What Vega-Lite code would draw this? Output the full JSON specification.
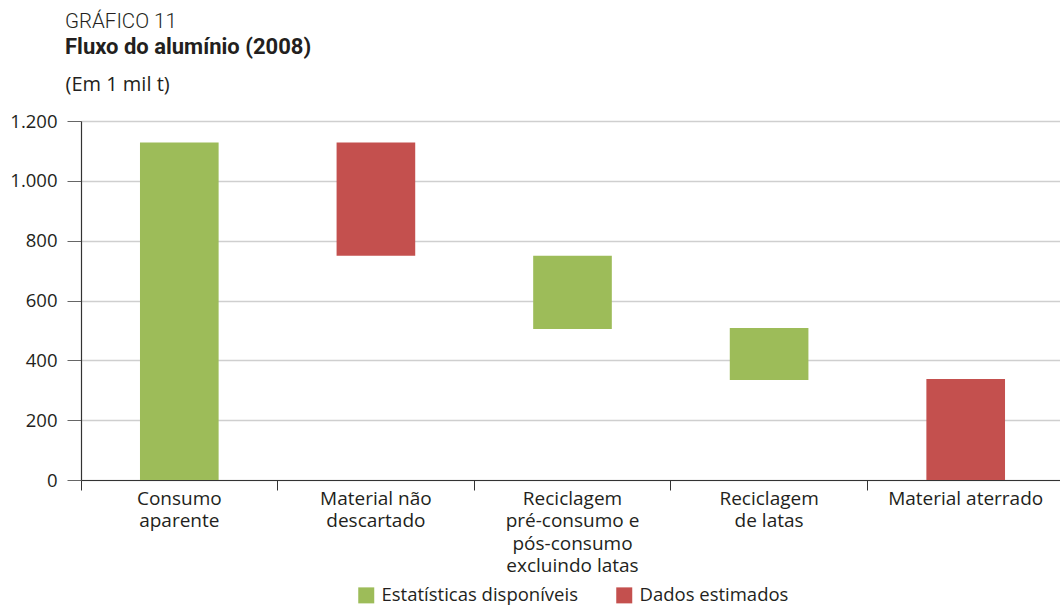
{
  "$schema": "https://vega.github.io/schema/vega-lite/v6.json",
  "width": 979,
  "height": 359,
  "autosize": {"type": "none"},
  "padding": {"left": 81, "top": 121, "right": 0, "bottom": 128},
  "background": "white",
  "title": {
    "text": "GRÁFICO 11",
    "subtitle": "Fluxo do alumínio (2008)",
    "anchor": "start",
    "frame": "group",
    "dx": -16,
    "font": "Roboto",
    "fontSize": 20.5,
    "fontWeight": 300,
    "color": "#231F20",
    "subtitleFont": "Roboto",
    "subtitleFontSize": 22,
    "subtitleFontWeight": "bold",
    "subtitleColor": "#231F20",
    "subtitlePadding": 5,
    "offset": 16
  },
  "data": {
    "values": [
      {"etapa": "Consumo aparente", "inicio": 0, "fim": 1128, "fonte": "Estatísticas disponíveis"},
      {"etapa": "Material não descartado", "inicio": 750, "fim": 1128, "fonte": "Dados estimados"},
      {"etapa": "Reciclagem pré-consumo e pós-consumo excluindo latas", "inicio": 505, "fim": 750, "fonte": "Estatísticas disponíveis"},
      {"etapa": "Reciclagem de latas", "inicio": 334, "fim": 508, "fonte": "Estatísticas disponíveis"},
      {"etapa": "Material aterrado", "inicio": 0, "fim": 338, "fonte": "Dados estimados"}
    ]
  },
  "mark": {"type": "bar", "width": {"band": 0.4}},
  "encoding": {
    "x": {
      "field": "etapa",
      "type": "nominal",
      "sort": null,
      "scale": {"paddingInner": 0, "paddingOuter": 0, "range": [0, 983]},
      "axis": {
        "title": null,
        "bandPosition": 0,
        "labelAngle": 0,
        "labelAlign": "center",
        "labelBaseline": "top",
        "labelLineHeight": 22.5,
        "labelFont": "Open Sans",
        "labelFontSize": 19,
        "labelColor": "#231F20",
        "labelPadding": -1,
        "labelOverlap": false,
        "labelBound": false,
        "labelFlush": false,
        "labelLimit": 0,
        "tickSize": 10,
        "tickColor": "#333333",
        "tickWidth": 1,
        "domainColor": "#333333",
        "domainWidth": 1.2,
        "grid": false,
        "labelExpr": "datum.value == 'Consumo aparente' ? ['Consumo','aparente'] : datum.value == 'Material não descartado' ? ['Material não','descartado'] : datum.value == 'Reciclagem pré-consumo e pós-consumo excluindo latas' ? ['Reciclagem','pré-consumo e','pós-consumo','excluindo latas'] : datum.value == 'Reciclagem de latas' ? ['Reciclagem','de latas'] : datum.label"
      }
    },
    "y": {
      "field": "inicio",
      "type": "quantitative",
      "scale": {"domain": [0, 1200], "nice": false},
      "axis": {
        "values": [0, 200, 400, 600, 800, 1000, 1200],
        "format": ",d",
        "title": "(Em 1 mil t)",
        "titleAngle": 0,
        "titleAlign": "left",
        "titleBaseline": "alphabetic",
        "titleX": -16,
        "titleY": -31,
        "titleFont": "Open Sans",
        "titleFontSize": 20,
        "titleFontWeight": "normal",
        "titleColor": "#231F20",
        "labelFont": "Open Sans",
        "labelFontSize": 18.5,
        "labelColor": "#231F20",
        "labelPadding": 10,
        "tickSize": 14,
        "tickColor": "#666666",
        "tickWidth": 1,
        "domainColor": "#333333",
        "domainWidth": 1.2,
        "grid": true,
        "gridColor": "#CFCFCF",
        "gridWidth": 1.5
      }
    },
    "y2": {"field": "fim"},
    "color": {
      "field": "fonte",
      "type": "nominal",
      "scale": {
        "domain": ["Estatísticas disponíveis", "Dados estimados"],
        "range": ["#9DBC59", "#C4504E"]
      },
      "legend": {
        "orient": "none",
        "legendX": 276,
        "legendY": 465,
        "direction": "horizontal",
        "title": null,
        "symbolType": "square",
        "symbolSize": 256,
        "symbolStrokeWidth": 0,
        "symbolOpacity": 1,
        "labelFont": "Open Sans",
        "labelFontSize": 18.5,
        "labelLimit": 0,
        "labelColor": "#231F20",
        "labelOffset": 6,
        "columnPadding": 37
      }
    }
  },
  "config": {
    "view": {"stroke": null},
    "locale": {
      "number": {"decimal": ",", "thousands": ".", "grouping": [3], "currency": ["R$", ""]}
    }
  }
}
